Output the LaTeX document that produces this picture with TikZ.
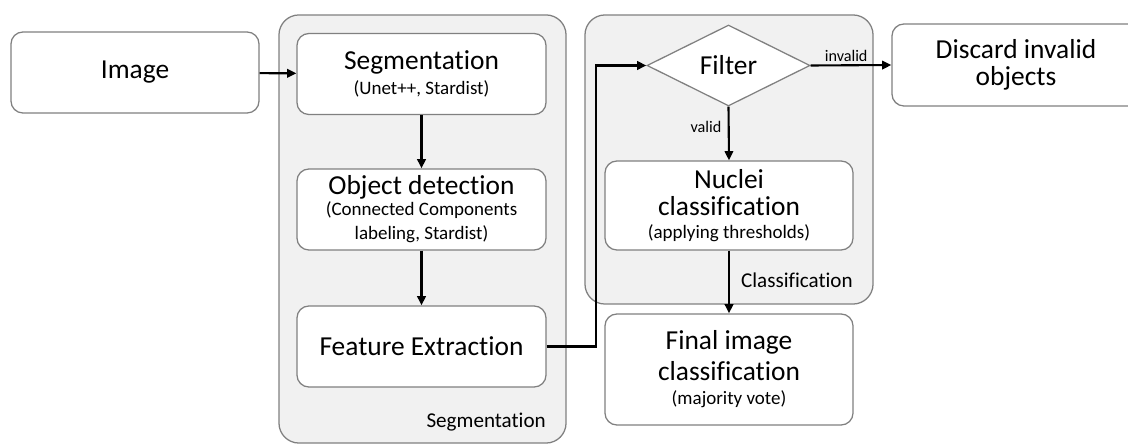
\documentclass[tikz,border=0pt]{standalone}
\usepackage{fontspec}
\setmainfont{Carlito}[Ligatures=NoCommon]
\usetikzlibrary{shapes.geometric,arrows.meta,positioning}
\definecolor{boxgray}{RGB}{128,128,128}
\definecolor{groupfill}{RGB}{241,241,241}

\newcommand{\mainsize}{\fontsize{19.5}{22}\selectfont}
\newcommand{\subsize}{\fontsize{13.5}{16}\selectfont}

\begin{document}
\begin{tikzpicture}[x=0.025cm, y=-0.025cm,
    stepbox/.style={rectangle, draw=boxgray, line width=0.9pt, fill=white, rounded corners=0.3cm, align=center, inner sep=2pt, font=\mainsize},
    group/.style={rectangle, draw=boxgray, line width=0.9pt, fill=groupfill, rounded corners=0.5cm},
    decision/.style={diamond, draw=boxgray, line width=0.9pt, fill=white, inner sep=0pt, font=\mainsize},
    grouplabel/.style={font=\fontsize{15}{18}\selectfont, inner sep=0pt},
    edgelabel/.style={font=\fontsize{11.5}{13}\selectfont, inner sep=1.5pt},
    flow/.style={-{Triangle[length=6.5pt,width=6pt]}, line width=1.5pt}]

    \useasboundingbox (0,0) rectangle (1128,444);

    % grey groups
    \node [group, minimum width=7.175cm, minimum height=10.7cm] (seggroup) at (422.5,229) {};
    \node [group, minimum width=7.2cm, minimum height=7.225cm] (clsgroup) at (729,159.5) {};
    \node [grouplabel, anchor=east] (seglabel) at (546,422) {Segmentation};
    \node [grouplabel, anchor=east] (clslabel) at (853,280) {Classification};

    % boxes
    \node [stepbox, minimum width=6.2cm, minimum height=2.025cm] (image) at (135,72.5) {Image};
    \node [stepbox, minimum width=6.225cm, minimum height=2.025cm] (seg) at (421.5,74) {Segmentation\\[-4.2pt]{\subsize (Unet++, Stardist)}};
    \node [stepbox, minimum width=6.225cm, minimum height=2.025cm] (objdet) at (421.5,209.5) {Object detection\\[-7pt]{\subsize (Connected Components}\\[-5pt]{\subsize labeling, Stardist)}};
    \node [stepbox, minimum width=6.225cm, minimum height=2.025cm] (featext) at (421.5,346.5) {Feature Extraction};
    \node [decision, minimum width=4.075cm, minimum height=2.025cm] (filter) at (728.5,65.5) {Filter};
    \node [stepbox, minimum width=6.2cm, minimum height=2.05cm] (discard) at (1016,65) {Discard invalid\\[-2.5pt]objects};
    \node [stepbox, minimum width=6.2cm, minimum height=2.225cm] (nuclei) at (729,205.5) {Nuclei\\[-2.5pt]classification\\[-6pt]{\subsize (applying thresholds)}};
    \node [stepbox, minimum width=6.2cm, minimum height=2.775cm] (final) at (729,369.5) {Final image\\classification\\[-5pt]{\subsize (majority vote)}};

    \coordinate (bend) at (596,346.5);

    % connectors
    \draw [flow] (image) -- (seg);
    \draw [flow] (seg) -- (objdet);
    \draw [flow] (objdet) -- (featext);
    \draw [flow] (featext.east) -- (bend) |- (filter.west);
    \draw [flow] (filter.east) -- node [edgelabel, above, pos=0.44] {invalid} (discard.west);
    \draw [flow] (filter.south) -- node [edgelabel, left, pos=0.38, xshift=-3pt] {valid} (nuclei.north);
    \draw [flow] (nuclei) -- (final);
\end{tikzpicture}
\end{document}
